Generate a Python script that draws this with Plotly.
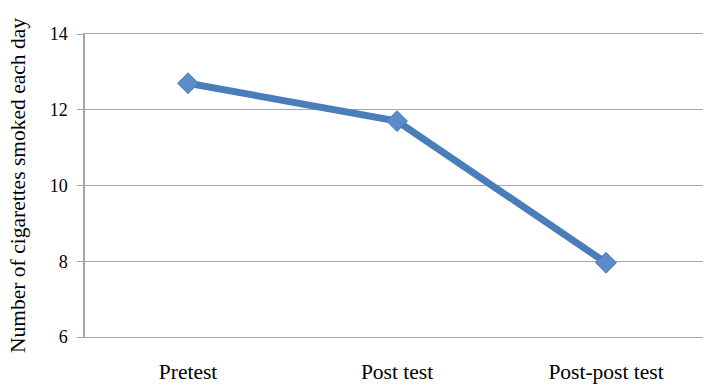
import plotly.graph_objects as go

categories = ["Pretest", "Post test", "Post-post test"]
values = [12.7, 11.7, 7.96]
y_ticks = [6, 8, 10, 12, 14]

fig = go.Figure()
fig.add_trace(go.Scatter(
    x=[0, 1, 2], y=values, mode="lines+markers",
    line=dict(color="#4a7ebb", width=7),
    marker=dict(symbol="diamond", size=16, color="#5b8bc9",
                line=dict(color="#4677b4", width=1)),
    showlegend=False,
))

grid = "#a6a6a6"
fig.update_layout(
    width=703, height=384,
    margin=dict(l=85, r=0, t=34, b=47),
    paper_bgcolor="white", plot_bgcolor="white",
    font=dict(family="Liberation Serif, Times New Roman, serif", size=18, color="black"),
)
fig.update_xaxes(
    range=[-0.493, 2.464],
    tickvals=[0, 1, 2], ticktext=categories,
    showgrid=False, zeroline=False,
    showline=True, mirror=True, linecolor=grid, linewidth=1.3,
    ticks="", automargin=False,
    ticklabelstandoff=15,
    tickfont=dict(size=21.5),
)
fig.update_yaxes(
    range=[6, 14], tickvals=y_ticks,
    showgrid=True, gridcolor=grid, gridwidth=1.3,
    zeroline=False, automargin=False,
    showline=True, linecolor=grid, linewidth=1.5,
    ticks="outside", ticklen=6, tickcolor=grid, tickwidth=1.3,
    ticklabelstandoff=6,
    tickfont=dict(size=18),
    title=dict(text="Number of cigarettes smoked each day", font=dict(size=21.5), standoff=18),
)

fig.write_html("out.html", config={"displayModeBar": False},
               post_script="document.body.style.margin='0';document.body.style.overflow='hidden';")
